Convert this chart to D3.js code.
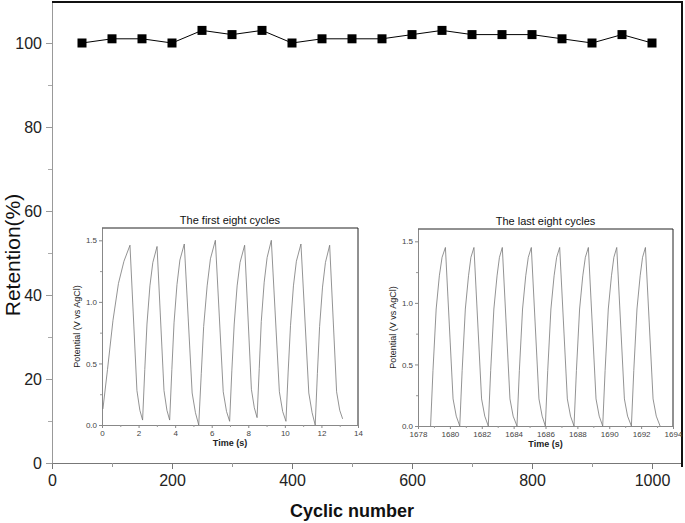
<!DOCTYPE html>
<html>
<head>
<meta charset="utf-8">
<script src="https://cdn.jsdelivr.net/npm/d3@7"></script>
<style>
  body { margin: 0; background: #fff; }
  text { font-family: "Liberation Sans", Arial, sans-serif; }
</style>
</head>
<body>
<div class="chart"></div>
<script>
// main series
var cycles = [50, 100, 150, 200, 250, 300, 350, 400, 450, 500, 550, 600, 650, 700, 750, 800, 850, 900, 950, 1000];
var retention = [100, 101, 101, 100, 103, 102, 103, 100, 101, 101, 101, 102, 103, 102, 102, 102, 101, 100, 102, 100];
var xTicks = [0, 200, 400, 600, 800, 1000];
var yTicks = [0, 20, 40, 60, 80, 100];

// inset: first eight cycles
var firstTime = [0.05, 0.3, 0.6, 0.9, 1.2, 1.53, 1.91, 2.07, 2.22,
  2.34, 2.46, 2.62, 2.78, 3.01, 3.39, 3.55, 3.70,
  3.82, 3.94, 4.10, 4.26, 4.50, 4.93, 5.11, 5.29,
  5.43, 5.56, 5.75, 5.93, 6.20, 6.63, 6.81, 6.98,
  7.10, 7.23, 7.39, 7.55, 7.80, 8.17, 8.33, 8.48,
  8.60, 8.71, 8.87, 9.03, 9.26, 9.70, 9.88, 10.06,
  10.18, 10.31, 10.47, 10.63, 10.88, 11.31, 11.49, 11.66,
  11.78, 11.90, 12.06, 12.22, 12.45, 12.83, 13.0, 13.16];
var firstPotential = [0.13, 0.45, 0.85, 1.15, 1.33, 1.46, 0.28, 0.12, 0.04,
  0.45, 0.82, 1.13, 1.32, 1.45, 0.28, 0.12, 0.04,
  0.45, 0.83, 1.14, 1.34, 1.47, 0.26, 0.10, 0.00,
  0.42, 0.80, 1.13, 1.35, 1.50, 0.27, 0.11, 0.03,
  0.44, 0.82, 1.13, 1.32, 1.46, 0.29, 0.14, 0.06,
  0.46, 0.84, 1.16, 1.36, 1.50, 0.27, 0.11, 0.03,
  0.43, 0.81, 1.13, 1.33, 1.47, 0.26, 0.10, 0.00,
  0.42, 0.80, 1.12, 1.32, 1.46, 0.27, 0.12, 0.05];

// inset: last eight cycles
var lastTime = [1678.79, 1678.94, 1679.14, 1679.34, 1679.51, 1679.72, 1680.20, 1680.40, 1680.62,
  1680.77, 1680.97, 1681.17, 1681.32, 1681.51, 1681.99, 1682.19, 1682.41,
  1682.56, 1682.76, 1682.96, 1683.11, 1683.29, 1683.77, 1683.97, 1684.21,
  1684.36, 1684.56, 1684.76, 1684.92, 1685.11, 1685.59, 1685.79, 1685.99,
  1686.14, 1686.34, 1686.54, 1686.70, 1686.89, 1687.37, 1687.57, 1687.79,
  1687.94, 1688.14, 1688.34, 1688.50, 1688.69, 1689.17, 1689.37, 1689.59,
  1689.74, 1689.94, 1690.14, 1690.29, 1690.47, 1690.95, 1691.15, 1691.39,
  1691.54, 1691.74, 1691.94, 1692.09, 1692.27, 1692.75, 1692.95, 1693.19];
var lastPotential = [0.00, 0.45, 0.95, 1.22, 1.37, 1.45, 0.22, 0.08, 0.00,
  0.45, 0.95, 1.22, 1.37, 1.45, 0.22, 0.08, 0.00,
  0.45, 0.95, 1.22, 1.37, 1.45, 0.22, 0.08, 0.00,
  0.45, 0.95, 1.22, 1.37, 1.45, 0.22, 0.08, 0.00,
  0.45, 0.95, 1.22, 1.37, 1.45, 0.22, 0.08, 0.00,
  0.45, 0.95, 1.22, 1.37, 1.45, 0.22, 0.08, 0.00,
  0.45, 0.95, 1.22, 1.37, 1.45, 0.22, 0.08, 0.00,
  0.45, 0.95, 1.22, 1.37, 1.45, 0.22, 0.08, 0.00];
var potentialTicks = [0, 0.5, 1.0, 1.5];

var svgWidth = 685;
var svgHeight = 523;

var svg = d3.select(".chart")
  .append("svg")
  .attr("width", svgWidth)
  .attr("height", svgHeight);

var xScale = d3.scaleLinear().domain([0, 1050]).range([52, 682]);
var yScale = d3.scaleLinear().domain([0, 110]).range([463, 1]);

function styleAxis(g, color) {
  g.select(".domain").attr("stroke", color);
  g.selectAll(".tick line").attr("stroke", color);
}

// main axes
var xAxis = svg.append("g")
  .attr("transform", `translate(0, ${yScale(0)})`)
  .call(d3.axisBottom(xScale).tickValues(xTicks).tickFormat(d3.format("d")).tickSize(6).tickPadding(6).tickSizeOuter(0));
xAxis.selectAll("text").attr("font-size", 16).attr("fill", "#222");
styleAxis(xAxis, "#777");

var xMinor = svg.append("g")
  .attr("transform", `translate(0, ${yScale(0)})`)
  .call(d3.axisBottom(xScale).tickValues([100, 300, 500, 700, 900]).tickSize(4).tickFormat("").tickSizeOuter(0));
xMinor.select(".domain").remove();
xMinor.selectAll(".tick line").attr("stroke", "#999");

var yAxis = svg.append("g")
  .attr("transform", `translate(${xScale(0)}, 0)`)
  .call(d3.axisLeft(yScale).tickValues(yTicks).tickSize(6).tickPadding(4).tickSizeOuter(0));
yAxis.selectAll("text").attr("font-size", 16).attr("fill", "#222");
styleAxis(yAxis, "#999");

var yMinor = svg.append("g")
  .attr("transform", `translate(${xScale(0)}, 0)`)
  .call(d3.axisLeft(yScale).tickValues([10, 30, 50, 70, 90]).tickSize(4).tickFormat("").tickSizeOuter(0));
yMinor.select(".domain").remove();
yMinor.selectAll(".tick line").attr("stroke", "#aaa");

// top and right frame
svg.append("line")
  .attr("x1", xScale(0)).attr("x2", xScale(1050))
  .attr("y1", yScale(110) + 1).attr("y2", yScale(110) + 1)
  .attr("stroke", "#111").attr("stroke-width", 2);
svg.append("line")
  .attr("x1", xScale(1050)).attr("x2", xScale(1050))
  .attr("y1", yScale(110)).attr("y2", yScale(0) + 4)
  .attr("stroke", "#111").attr("stroke-width", 2);

// retention line + square markers
var points = cycles.map((c, i) => ({ c: c, r: retention[i] }));

svg.append("path")
  .datum(points)
  .attr("fill", "none")
  .attr("stroke", "#000")
  .attr("stroke-width", 1)
  .attr("d", d3.line().x(d => xScale(d.c)).y(d => yScale(d.r)));

svg.selectAll("rect.marker")
  .data(points)
  .enter()
  .append("rect")
  .attr("class", "marker")
  .attr("x", d => xScale(d.c) - 4.5)
  .attr("y", d => yScale(d.r) - 4.5)
  .attr("width", 9)
  .attr("height", 9)
  .attr("fill", "#000");

// axis titles
svg.append("text")
  .attr("transform", "translate(20, 255) rotate(-90)")
  .attr("text-anchor", "middle")
  .attr("font-size", 21)
  .attr("fill", "#111")
  .text("Retention(%)");

svg.append("text")
  .attr("x", 352)
  .attr("y", 517)
  .attr("text-anchor", "middle")
  .attr("font-size", 18)
  .attr("font-weight", "bold")
  .attr("fill", "#111")
  .text("Cyclic number");

// insets
function drawInset(cfg) {
  var ix = d3.scaleLinear().domain(cfg.xDomain).range([cfg.left, cfg.right]);
  var iy = d3.scaleLinear().domain([0, 1.6]).range([cfg.bottom, cfg.top]);
  var g = svg.append("g");

  var bx = g.append("g")
    .attr("transform", `translate(0, ${cfg.bottom})`)
    .call(d3.axisBottom(ix).tickValues(cfg.xTicks).tickFormat(d3.format("d")).tickSize(3).tickPadding(2).tickSizeOuter(0));
  bx.selectAll("text").attr("font-size", 8).attr("fill", "#444");
  styleAxis(bx, "#888");

  var bxm = g.append("g")
    .attr("transform", `translate(0, ${cfg.bottom})`)
    .call(d3.axisBottom(ix).tickValues(cfg.xMinor).tickSize(2).tickFormat("").tickSizeOuter(0));
  bxm.select(".domain").remove();
  bxm.selectAll(".tick line").attr("stroke", "#999");

  var ly = g.append("g")
    .attr("transform", `translate(${cfg.left}, 0)`)
    .call(d3.axisLeft(iy).tickValues(potentialTicks).tickFormat(d3.format(".1f")).tickSize(3).tickPadding(2).tickSizeOuter(0));
  ly.selectAll("text").attr("font-size", 8).attr("fill", "#444");
  styleAxis(ly, "#888");

  var lym = g.append("g")
    .attr("transform", `translate(${cfg.left}, 0)`)
    .call(d3.axisLeft(iy).tickValues([0.25, 0.75, 1.25]).tickSize(2).tickFormat("").tickSizeOuter(0));
  lym.select(".domain").remove();
  lym.selectAll(".tick line").attr("stroke", "#999");

  g.append("line")
    .attr("x1", cfg.left).attr("x2", cfg.right)
    .attr("y1", cfg.top).attr("y2", cfg.top)
    .attr("stroke", "#222").attr("stroke-width", 1);
  g.append("line")
    .attr("x1", cfg.right).attr("x2", cfg.right)
    .attr("y1", cfg.top).attr("y2", cfg.bottom)
    .attr("stroke", "#222").attr("stroke-width", 1);

  var data = cfg.time.map((t, i) => ({ t: t, v: cfg.potential[i] }));
  g.append("path")
    .datum(data)
    .attr("fill", "none")
    .attr("stroke", "#777")
    .attr("stroke-width", 0.8)
    .attr("d", d3.line().x(d => ix(d.t)).y(d => iy(d.v)));

  g.append("text")
    .attr("x", (cfg.left + cfg.right) / 2)
    .attr("y", cfg.top - 4)
    .attr("text-anchor", "middle")
    .attr("font-size", 11)
    .attr("fill", "#111")
    .text(cfg.title);

  g.append("text")
    .attr("x", (cfg.left + cfg.right) / 2)
    .attr("y", cfg.bottom + 21)
    .attr("text-anchor", "middle")
    .attr("font-size", 9)
    .attr("font-weight", "bold")
    .attr("fill", "#222")
    .text("Time (s)");

  g.append("text")
    .attr("transform", `translate(${cfg.left - 22}, ${(cfg.top + cfg.bottom) / 2}) rotate(-90)`)
    .attr("text-anchor", "middle")
    .attr("font-size", 9)
    .attr("fill", "#222")
    .text("Potential (V vs AgCl)");
}

drawInset({
  left: 102, right: 358, top: 228, bottom: 425,
  xDomain: [0, 14],
  xTicks: [0, 2, 4, 6, 8, 10, 12, 14],
  xMinor: [1, 3, 5, 7, 9, 11, 13],
  time: firstTime, potential: firstPotential,
  title: "The first eight cycles"
});

drawInset({
  left: 418, right: 673, top: 229, bottom: 426,
  xDomain: [1678, 1694],
  xTicks: [1678, 1680, 1682, 1684, 1686, 1688, 1690, 1692, 1694],
  xMinor: [1679, 1681, 1683, 1685, 1687, 1689, 1691, 1693],
  time: lastTime, potential: lastPotential,
  title: "The last eight cycles"
});
</script>
</body>
</html>
